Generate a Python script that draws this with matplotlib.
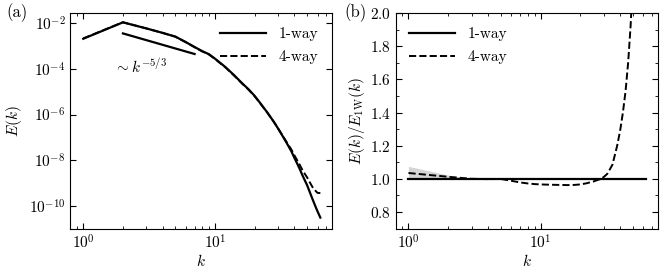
import numpy as np
import matplotlib
matplotlib.use("Agg")
import matplotlib.pyplot as plt
from matplotlib.ticker import LogLocator, NullLocator, FixedLocator, MultipleLocator, NullFormatter

plt.rcParams['font.family'] = 'serif'
plt.rcParams['font.serif'] = ['cmr10', 'DejaVu Serif']
plt.rcParams['mathtext.fontset'] = 'cm'
plt.rcParams['axes.formatter.use_mathtext'] = True
plt.rcParams['font.size'] = 11

# wavenumbers and spectra
k = [1, 2, 3, 4, 5, 6, 7, 8, 9, 10, 12, 14, 16, 18, 20, 22, 25, 28, 30, 32,
     35, 38, 40, 42, 44, 46, 48, 50, 52, 55, 58, 60, 63]
E_1way = [2.1e-3, 1.1e-2, 6.0e-3, 3.8e-3, 2.6e-3, 1.5e-3, 9.1e-4, 6.0e-4, 4.4e-4, 2.8e-4,
          1.2e-4, 5.2e-5, 2.4e-5, 1.26e-5, 6.5e-6, 3.2e-6, 1.2e-6, 4.7e-7, 2.5e-7, 1.35e-7,
          5.6e-8, 2.4e-8, 1.26e-8, 7.1e-9, 4.0e-9, 2.2e-9, 1.3e-9, 7.9e-10, 4.4e-10, 1.9e-10,
          8.9e-11, 5.6e-11, 3.0e-11]
ratio_4way = [1.035, 1.012, 1.0, 0.998, 0.999, 0.988, 0.978, 0.972, 0.968, 0.966,
              0.964, 0.963, 0.962, 0.963, 0.966, 0.972, 0.983, 0.997, 1.01, 1.03,
              1.085, 1.2, 1.29, 1.40, 1.53, 1.70, 1.92, 2.2, 2.6, 3.4,
              5.0, 6.5, 12.0]
# spread band at low k
k_band = [1, 2, 3]
band_lo = [0.996, 0.999, 1.0]
band_hi = [1.075, 1.022, 1.002]
# -5/3 reference line
k_ref = [2, 7]
E_ref = [3.6e-3, 4.5e-4]

E_4way = np.array(E_1way) * np.array(ratio_4way)
ratio_1way = np.array(E_1way) / np.array(E_1way)

fig = plt.figure(figsize=(6.65, 2.73), dpi=100)
ax1 = fig.add_axes([0.106, 0.163, 0.393, 0.789])
ax2 = fig.add_axes([0.595, 0.163, 0.394, 0.789])

def style(ax):
    ax.set_xscale('log')
    ax.set_xlim(0.8, 77)
    ax.tick_params(which='both', direction='in', top=True, right=True)
    ax.tick_params(which='major', length=4, width=0.8)
    ax.tick_params(which='minor', length=2, width=0.6)
    ax.xaxis.set_major_locator(FixedLocator([1, 10]))
    ax.xaxis.set_minor_locator(LogLocator(base=10, subs=np.arange(2, 10)))
    ax.xaxis.set_minor_formatter(NullFormatter())
    ax.set_xlabel('$k$', labelpad=1)

# (a)
ax1.plot(k, E_1way, 'k-', lw=1.6, label='1-way')
ax1.plot(k, E_4way, 'k--', lw=1.4, label='4-way')
ax1.plot(k_ref, E_ref, 'k-', lw=1.6)
ax1.text(1.72, 1.3e-4, r'$\sim k^{-5/3}$', fontsize=11, va='center')
style(ax1)
ax1.set_yscale('log')
ax1.set_ylim(1e-11, 2.8e-2)
ax1.yaxis.set_major_locator(FixedLocator([1e-10, 1e-8, 1e-6, 1e-4, 1e-2]))
ax1.yaxis.set_minor_locator(NullLocator())
ax1.set_ylabel('$E(k)$')
ax1.legend(loc='upper right', frameon=False, handlelength=3.0, fontsize=11,
           borderaxespad=0.5, labelspacing=0.6)
ax1.text(-0.245, 1.045, '(a)', transform=ax1.transAxes, va='top', fontsize=12)

# (b)
ax2.fill_between(k_band, band_lo, band_hi, color='#d4d4d4', lw=0)
ax2.plot(k, ratio_1way, 'k-', lw=1.6, label='1-way')
ax2.plot(k, ratio_4way, 'k--', lw=1.4, label='4-way')
style(ax2)
ax2.set_ylim(0.7, 2.0)
ax2.yaxis.set_major_locator(MultipleLocator(0.2))
ax2.yaxis.set_minor_locator(MultipleLocator(0.1))
ax2.set_ylabel(r'$E(k)/E_{1\mathrm{W}}(k)$', labelpad=2)
ax2.legend(loc='upper left', frameon=False, handlelength=3.0, fontsize=11,
           borderaxespad=0.5, labelspacing=0.6)
ax2.text(-0.195, 1.045, '(b)', transform=ax2.transAxes, va='top', fontsize=12)

fig.savefig('out.png', dpi=100)
